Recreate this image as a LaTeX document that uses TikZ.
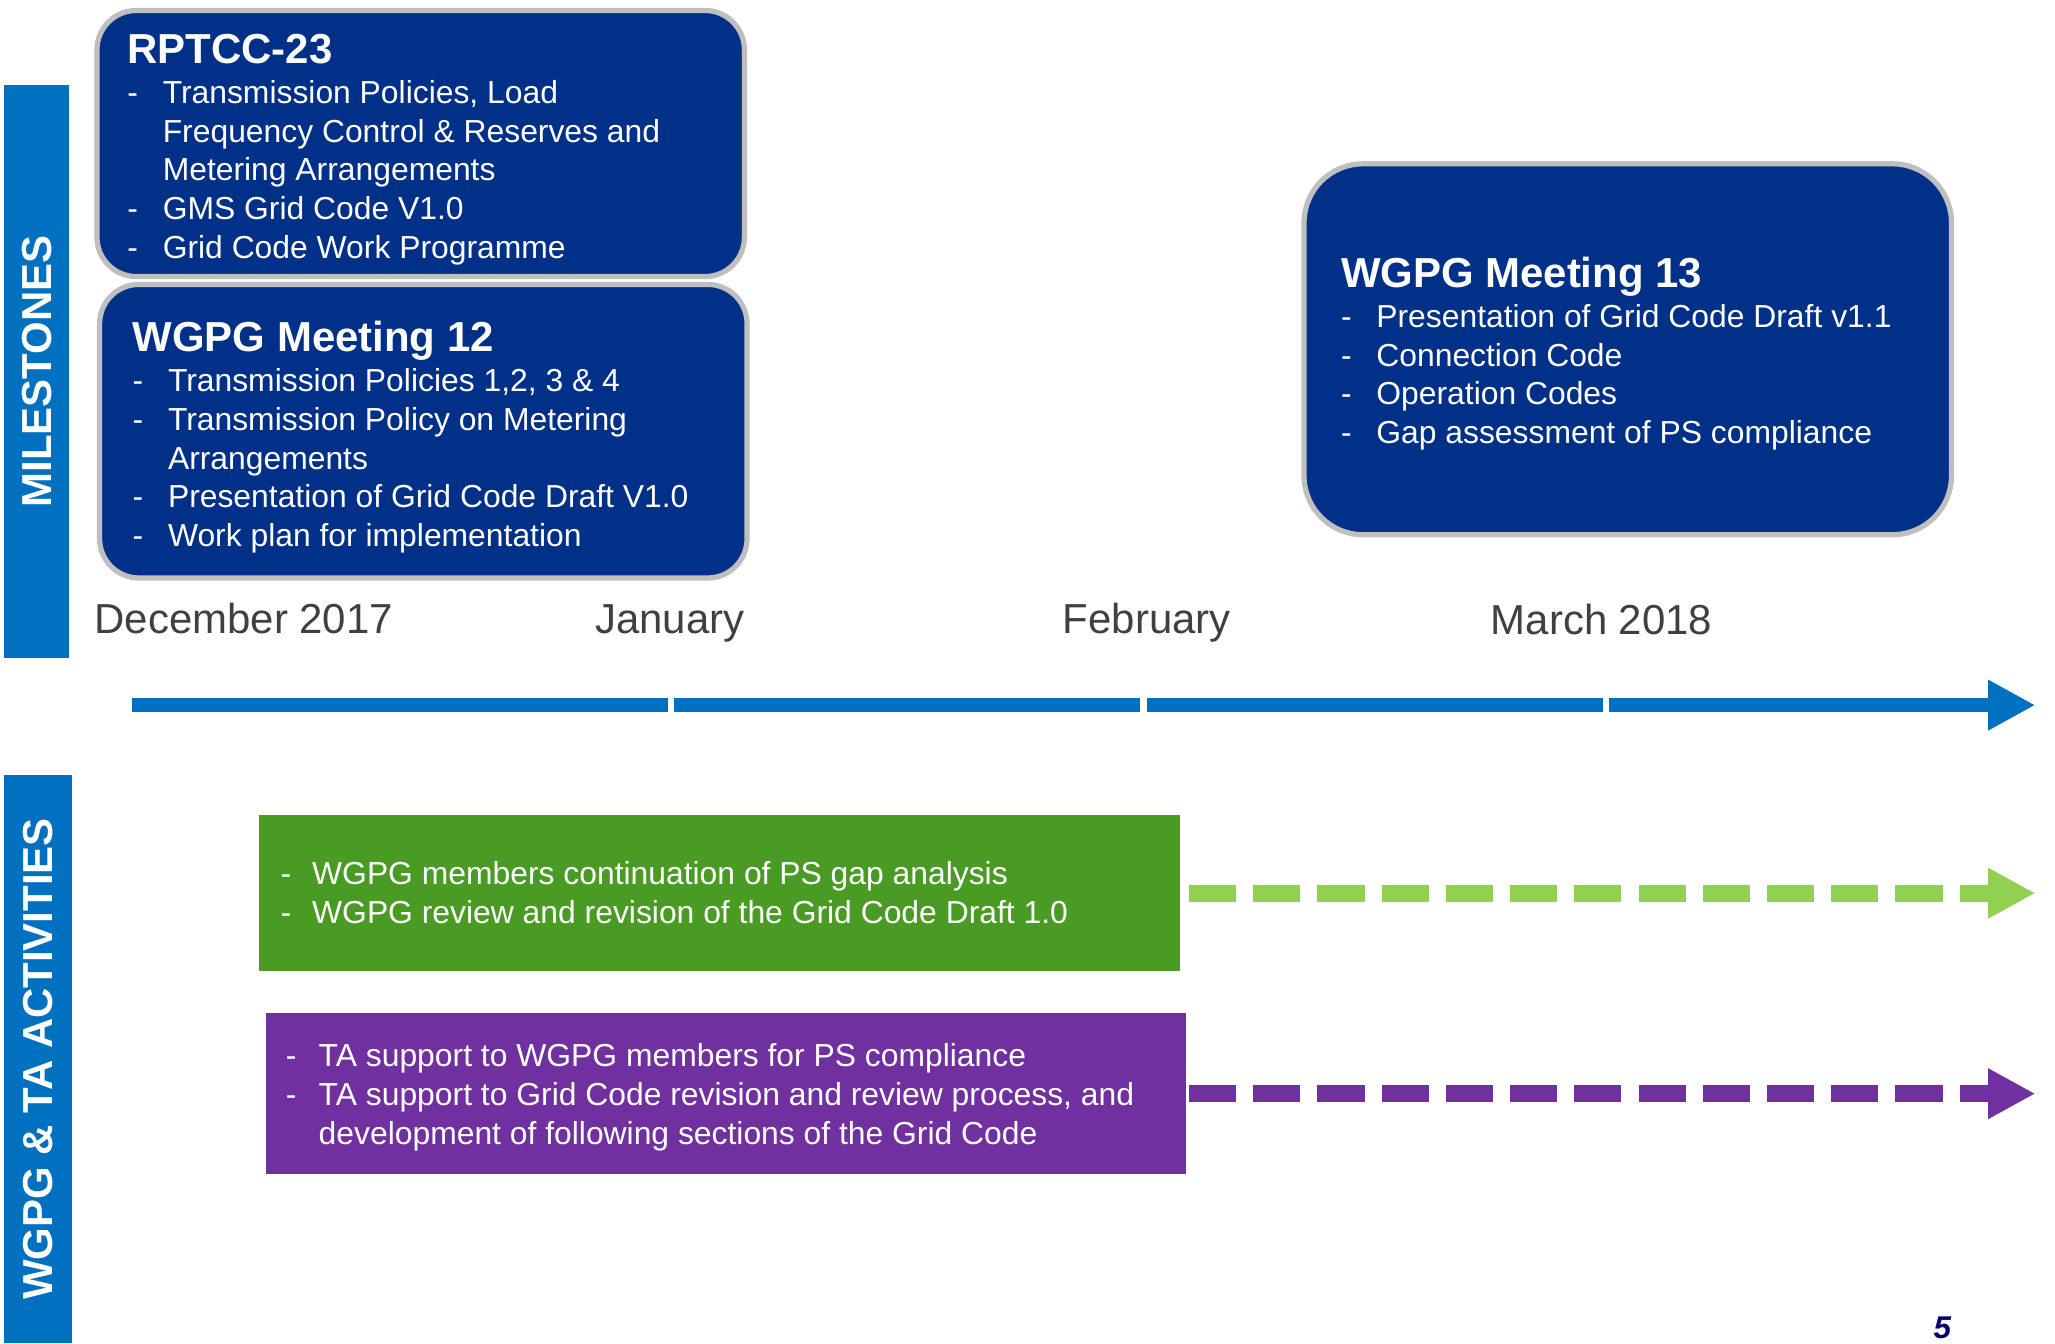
\documentclass[tikz,border=0pt]{standalone}
\usepackage{fontspec}
\setmainfont{Liberation Sans}
\usepackage{array}
\usetikzlibrary{arrows.meta}

\definecolor{navy}{RGB}{0,48,135}
\definecolor{rim}{RGB}{191,191,191}
\definecolor{barblue}{RGB}{0,112,192}
\definecolor{actgreen}{RGB}{73,155,36}
\definecolor{lightgreen}{RGB}{146,208,80}
\definecolor{actpurple}{RGB}{112,48,160}
\definecolor{monthgray}{RGB}{64,64,64}
\definecolor{pagenavy}{RGB}{0,0,110}

\newcommand{\titel}[1]{\multicolumn{2}{@{}l@{}}{\fontsize{32}{36}\selectfont\bfseries #1}\\[1pt]}
\newenvironment{punkte}[1][27pt]{\fontsize{24.3}{29.5}\selectfont\begin{tabular}[t]{@{}p{#1}@{}l@{}}}{\end{tabular}}

\begin{document}
\begin{tikzpicture}[x=1pt, y=-1pt,
	mstone/.style={draw=rim, line width=4pt, fill=navy, rounded corners=30pt, inner sep=0pt},
	actbox/.style={inner sep=0pt, minimum width=702pt},
	sidebar/.style={fill=barblue, text=white, font=\fontsize{32}{36}\selectfont\bfseries, inner sep=0pt, rotate=90},
	boxtext/.style={text=white, inner sep=0pt, anchor=base west},
	month/.style={text=monthgray, font=\fontsize{32}{36}\selectfont, inner sep=0pt, anchor=base},
	tline/.style={barblue, line width=11pt},
	flow/.style={line width=13pt, dash pattern=on 36pt off 13pt, -{Triangle[length=36pt, width=36pt]}}]

	\path[fill=white, use as bounding box] (0,0) rectangle (1568,1025);

	% side labels
	\node[sidebar, minimum width=437pt, minimum height=50pt] (msbar) at (28,283.5) {MILESTONES};
	\node[sidebar, minimum width=434pt, minimum height=52pt] (actbar) at (29,808) {WGPG \& TA ACTIVITIES};

	% milestones
	\node[mstone, minimum width=494pt, minimum height=203pt] (rptcc) at (321,109.5) {};
	\node[mstone, minimum width=494pt, minimum height=224pt] (meet12) at (323,329) {};
	\node[mstone, rounded corners=45pt, minimum width=494pt, minimum height=283pt] (meet13) at (1242,266.5) {};

	\node[boxtext] (rptcctext) at (97,48.5) {\begin{punkte}
		\titel{RPTCC-23}
		- & Transmission Policies, Load\\
		  & Frequency Control \& Reserves and\\
		  & Metering Arrangements\\
		- & GMS Grid Code V1.0\\
		- & Grid Code Work Programme
	\end{punkte}};
	\node[boxtext] (meet12text) at (101,268.5) {\begin{punkte}
		\titel{WGPG Meeting 12}
		- & Transmission Policies 1,2, 3 \& 4\\
		- & Transmission Policy on Metering\\
		  & Arrangements\\
		- & Presentation of Grid Code Draft V1.0\\
		- & Work plan for implementation
	\end{punkte}};
	\node[boxtext] (meet13text) at (1023,219.5) {\begin{punkte}
		\titel{WGPG Meeting 13}
		- & Presentation of Grid Code Draft v1.1\\
		- & Connection Code\\
		- & Operation Codes\\
		- & Gap assessment of PS compliance
	\end{punkte}};

	% months and time line
	\node[month, anchor=base west] (dec) at (72,483) {December 2017};
	\node[month] (jan) at (511,483) {January};
	\node[month] (feb) at (875,483) {February};
	\node[month] (mar) at (1222,484) {March 2018};

	\foreach \n/\x in {t0/101, t1/510, t2/514, t3/870, t4/875, t5/1223, t6/1228, t7/1553}
		\coordinate (\n) at (\x,538);
	\draw[tline] (t0) -- (t1);
	\draw[tline] (t2) -- (t3);
	\draw[tline] (t4) -- (t5);
	\draw[tline, -{Triangle[length=36pt, width=36pt]}] (t6) -- (t7);

	% activities
	\node[actbox, fill=actgreen, minimum height=119pt] (gapbox) at (549,681.5) {};
	\node[actbox, fill=actpurple, minimum height=123pt] (tabox) at (554,834.5) {};

	\node[boxtext] (gaptext) at (214,675) {\begin{punkte}[24pt]
		- & WGPG members continuation of PS gap analysis\\
		- & WGPG review and revision of the Grid Code Draft 1.0
	\end{punkte}};
	\node[boxtext] (tatext) at (218,814) {\begin{punkte}[25pt]
		- & TA support to WGPG members for PS compliance\\
		- & TA support to Grid Code revision and review process, and\\
		  & development of following sections of the Grid Code
	\end{punkte}};

	\coordinate (gapend) at (1553,681.5);
	\coordinate (taend) at (1553,834.5);
	\draw[flow, lightgreen] ([xshift=7pt]gapbox.east) -- (gapend);
	\draw[flow, actpurple] ([xshift=2pt]tabox.east) -- (taend);

	\node[anchor=base, inner sep=0pt, text=pagenavy, font=\fontsize{24}{28}\selectfont\bfseries\itshape] (pagenum) at (1482,1021) {5};
\end{tikzpicture}
\end{document}
